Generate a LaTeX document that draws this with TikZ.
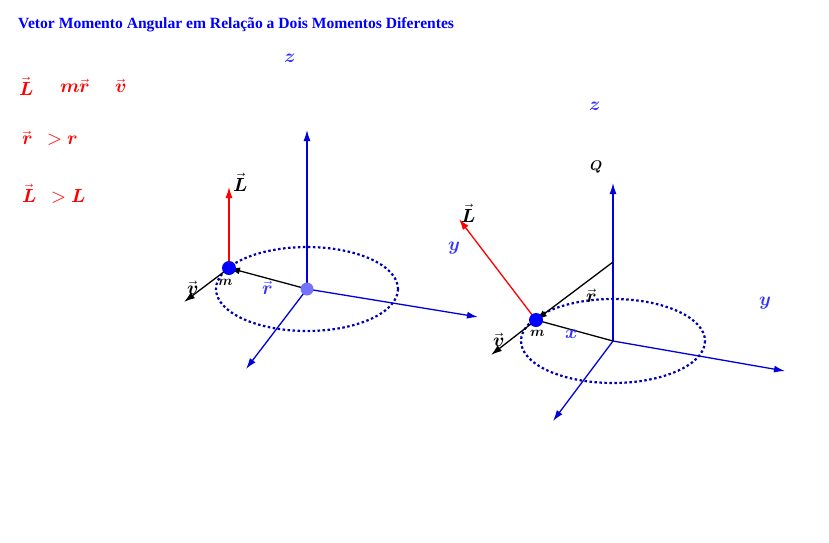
\documentclass[tikz,border=0pt]{standalone}
\usepackage{fontspec}
\setmainfont{Liberation Serif}
\usepackage{unicode-math}
\usetikzlibrary{arrows.meta}
\begin{document}
\begin{tikzpicture}[x=1pt,y=-1pt,font=\fontsize{19}{22}\selectfont,
 ax/.style={draw=blue!85!black,line width=1.3pt,-{Latex[length=11pt,width=7pt]}},
 vec/.style={line width=1.3pt,-{Latex[length=11pt,width=7pt]}},
 orb/.style={draw=blue!70!black,line width=2.2pt,dash pattern=on 2.5pt off 2.5pt},
 sm/.style={font=\fontsize{14}{16}\selectfont}]
\useasboundingbox (0,0) rectangle (829,542);
\node[anchor=west,text=blue,font=\bfseries\fontsize{15.6}{18}\selectfont,inner sep=0pt] (title) at (18,25) {Vetor Momento Angular em Relação a Dois Momentos Diferentes};
\node[text=red,anchor=west,inner sep=0pt] (e1) at (19,86) {$\symbfit{\vec L}$};
\node[text=red,anchor=west,inner sep=0pt] (e2) at (60,86) {$\symbfit{m\vec r}$};
\node[text=red,anchor=west,inner sep=0pt] (e3) at (115,86) {$\symbfit{\vec v}$};
\node[text=red,anchor=west,inner sep=0pt] (e4) at (22,138) {$\symbfit{\vec r\ \ > r}$};
\node[text=red,anchor=west,inner sep=0pt] (e5) at (22,194) {$\symbfit{\vec L\ \ > L}$};
% left
\coordinate (O1) at (307,289);
\coordinate (Z1) at (307,130); \coordinate (X1) at (246,369); \coordinate (Y1) at (478,317);
\draw[orb] (O1) ellipse [x radius=91, y radius=42];
\draw[ax] (O1) -- (Z1); \draw[ax] (O1) -- (X1); \draw[ax] (O1) -- (Y1);
\coordinate (M1) at (229,268);
\coordinate (L1) at (229,187);
\coordinate (V1) at (184,302);
\draw[vec,draw=red,fill=red] (M1) -- (L1);
\draw[vec] (O1) -- (M1);
\draw[vec] (M1) -- (V1);
\fill[blue!55] (O1) circle (6.5);
\fill[blue] (M1) circle (7);
\node[text=blue!80] (zl1) at (290,58) {$\symbfit{z}$};
\node (Ll1) at (241,182) {$\symbfit{\vec L}$};
\node (vl1) at (193,288) {$\symbfit{\vec v}$};
\node[sm] (ml1) at (226,282) {$\symbfit{m}$};
\node[text=blue!80] (rl1) at (268,288) {$\symbfit{\vec r}$};
% right
\coordinate (O2) at (613,341);
\coordinate (Z2) at (613,183); \coordinate (X2) at (553,421); \coordinate (Y2) at (785,371);
\draw[orb] (O2) ellipse [x radius=92, y radius=42];
\draw[ax] (O2) -- (Z2); \draw[ax] (O2) -- (X2); \draw[ax] (O2) -- (Y2);
\coordinate (M2) at (536,320);
\coordinate (Q2) at (613,262);
\coordinate (L2) at (459,219);
\coordinate (V2) at (491,355);
\draw[vec,draw=red,fill=red] (M2) -- (L2);
\draw[vec] (Q2) -- (M2);
\draw[line width=1.3pt] (M2) -- (O2);
\draw[vec] (M2) -- (V2);
\fill[blue] (M2) circle (7);
\node[text=blue!80] (zl2) at (595,106) {$\symbfit{z}$};
\node[sm] (ql) at (597,167) {$\symbfit{Q}$};
\node (Ll2) at (469,213) {$\symbfit{\vec L}$};
\node[text=blue!80] (yl2) at (454,248) {$\symbfit{y}$};
\node (rl2) at (592,296) {$\symbfit{\vec r}$};
\node[text=blue!80] (xl2) at (572,334) {$\symbfit{x}$};
\node[sm] (ml2) at (538,333) {$\symbfit{m}$};
\node (vl2) at (499,340) {$\symbfit{\vec v}$};
\node[text=blue!80] (yr2) at (765,303) {$\symbfit{y}$};
\end{tikzpicture}
\end{document}
